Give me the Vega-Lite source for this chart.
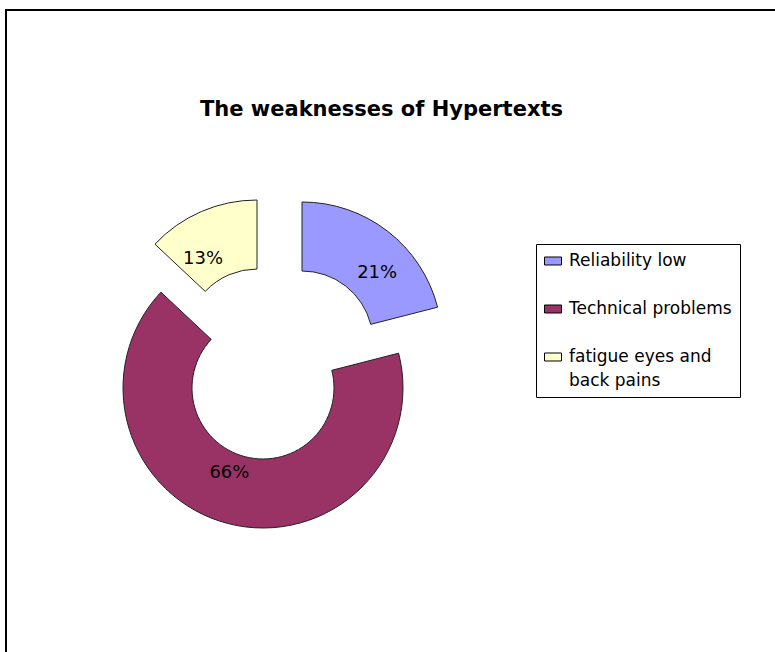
{
  "$schema": "https://vega.github.io/schema/vega-lite/v6.json",
  "autosize": "none",
  "width": 789,
  "height": 662,
  "padding": {"left": 6, "top": 10, "right": -20, "bottom": -20},
  "background": "white",
  "view": {"stroke": "black", "strokeWidth": 2},
  "title": {
    "text": "The weaknesses of Hypertexts",
    "font": "DejaVu Sans",
    "fontSize": 21,
    "fontWeight": "bold",
    "color": "black",
    "anchor": "middle",
    "frame": "group",
    "baseline": "alphabetic",
    "offset": 0,
    "dx": -19,
    "dy": 127
  },
  "data": {
    "values": [
      {"cat": "Reliability low", "pct": 21, "label": "21%", "idx": 1},
      {"cat": "Technical problems", "pct": 66, "label": "66%", "idx": 2},
      {"cat": "fatigue eyes and back pains", "pct": 13, "label": "13%", "idx": 3}
    ]
  },
  "encoding": {
    "theta": {"field": "pct", "type": "quantitative", "stack": true},
    "order": {"field": "idx", "type": "quantitative"},
    "color": {
      "field": "cat",
      "type": "nominal",
      "sort": ["Reliability low", "Technical problems", "fatigue eyes and back pains"],
      "scale": {
        "domain": ["Reliability low", "Technical problems", "fatigue eyes and back pains"],
        "range": ["#9999FF", "#993366", "#FFFFCC"]
      },
      "legend": {
        "orient": "none",
        "legendX": 530,
        "legendY": 234,
        "title": null,
        "symbolType": "M-1,-0.47H1V0.47H-1Z",
        "symbolSize": 289,
        "symbolStrokeColor": "black",
        "symbolStrokeWidth": 1,
        "symbolOpacity": 1,
        "labelFont": "DejaVu Sans",
        "labelFontSize": 17,
        "labelColor": "black",
        "labelLimit": 0,
        "labelOffset": 7,
        "rowPadding": 31,
        "padding": 8,
        "strokeColor": "black",
        "fillColor": "white",
        "labelExpr": "datum.label == 'fatigue eyes and back pains' ? ['fatigue eyes and', 'back pains'] : datum.label"
      }
    }
  },
  "layer": [
    {
      "mark": {"type": "arc", "x": 296, "y": 332, "innerRadius": 71, "outerRadius": 140, "stroke": "#222222", "strokeWidth": 1},
      "encoding": {"opacity": {"condition": {"test": "datum.idx == 1", "value": 1}, "value": 0}}
    },
    {
      "mark": {"type": "arc", "x": 257, "y": 378, "innerRadius": 71, "outerRadius": 140, "stroke": "#222222", "strokeWidth": 1},
      "encoding": {"opacity": {"condition": {"test": "datum.idx == 2", "value": 1}, "value": 0}}
    },
    {
      "mark": {"type": "arc", "x": 251, "y": 330, "innerRadius": 71, "outerRadius": 140, "stroke": "#222222", "strokeWidth": 1},
      "encoding": {"opacity": {"condition": {"test": "datum.idx == 3", "value": 1}, "value": 0}}
    },
    {
      "mark": {"type": "text", "x": 296, "y": 332, "radius": 103, "dx": 12, "dy": 12, "font": "DejaVu Sans", "fontSize": 18, "fill": "black"},
      "encoding": {
        "text": {"field": "label"},
        "color": {"value": "black"},
        "opacity": {"condition": {"test": "datum.idx == 1", "value": 1}, "value": 0}
      }
    },
    {
      "mark": {"type": "text", "x": 257, "y": 378, "radius": 103, "dx": -8, "dy": -15, "font": "DejaVu Sans", "fontSize": 18, "fill": "black"},
      "encoding": {
        "text": {"field": "label"},
        "color": {"value": "black"},
        "opacity": {"condition": {"test": "datum.idx == 2", "value": 1}, "value": 0}
      }
    },
    {
      "mark": {"type": "text", "x": 251, "y": 330, "radius": 103, "dx": -13, "dy": 14, "font": "DejaVu Sans", "fontSize": 18, "fill": "black"},
      "encoding": {
        "text": {"field": "label"},
        "color": {"value": "black"},
        "opacity": {"condition": {"test": "datum.idx == 3", "value": 1}, "value": 0}
      }
    }
  ],
  "config": {
    "style": {"guide-label": {"lineHeight": 24}}
  }
}
